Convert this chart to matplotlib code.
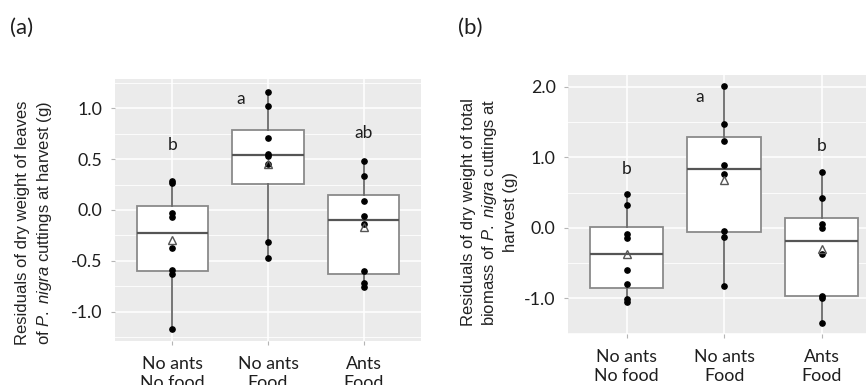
import numpy as np
import matplotlib
matplotlib.use("Agg")
import matplotlib.pyplot as plt
from matplotlib.ticker import MultipleLocator

plt.rcParams['font.family'] = ['Lato', 'DejaVu Sans']
plt.rcParams['mathtext.fontset'] = 'custom'
plt.rcParams['mathtext.rm'] = 'Liberation Sans'
plt.rcParams['mathtext.it'] = 'Liberation Sans:italic'

groups = ["No ants\nNo food", "No ants\nFood", "Ants\nFood"]

# (a) residuals of leaf dry weight (g)
leaves = [
    [0.286, 0.263, -0.033, -0.069, -0.378, -0.591, -0.631, -1.176],
    [1.165, 1.020, 0.713, 0.552, 0.535, 0.450, -0.318, -0.476],
    [0.483, 0.338, 0.089, -0.059, -0.138, -0.601, -0.722, -0.762],
]
leaves_letters = ["b", "a", "ab"]
leaves_letter_y = [0.64, 1.09, 0.76]

# (b) residuals of total biomass dry weight (g)
biomass = [
    [0.473, 0.317, -0.094, -0.151, -0.600, -0.803, -1.016, -1.058],
    [2.014, 1.467, 1.230, 0.894, 0.762, -0.047, -0.128, -0.823],
    [0.786, 0.417, 0.052, 0.000, -0.373, -0.969, -0.993, -1.357],
]
biomass_letters = ["b", "a", "b"]
biomass_letter_y = [0.84, 1.86, 1.16]

BG = '#EBEBEB'
TXT = '#1e1e1e'


def panel(ax, data, letters, letter_y, ylim, major, ticks, fmt, a_shift):
    ax.set_facecolor(BG)
    for s in ax.spines.values():
        s.set_visible(False)
    pos = np.arange(1, len(data) + 1)
    ax.boxplot(data, positions=pos, widths=0.75, patch_artist=True,
               showcaps=False, showfliers=False, zorder=3,
               boxprops=dict(facecolor='white', edgecolor='#8a8a8a', linewidth=1.3),
               medianprops=dict(color='#555555', linewidth=1.6),
               whiskerprops=dict(color='#6a6a6a', linewidth=1.3))
    for x, vals in zip(pos, data):
        ax.plot([x] * len(vals), vals, 'o', color='black', ms=3.8, zorder=4)
        ax.plot(x, np.mean(vals), '^', mfc='none', mec='#555555', mew=1.0,
                ms=5.5, zorder=5)
    for i, (lab, y) in enumerate(zip(letters, letter_y)):
        dx = a_shift if lab == "a" else 0
        ax.text(pos[i] + dx, y, lab, ha='center', va='center', fontsize=12.5,
                color=TXT, zorder=6)
    ax.set_ylim(*ylim)
    ax.yaxis.set_major_locator(MultipleLocator(major))
    ax.yaxis.set_minor_locator(MultipleLocator(major / 2))
    ax.set_yticks(ticks)
    ax.set_yticklabels([fmt.format(t) for t in ticks])
    ax.set_xticks(pos)
    ax.set_xticklabels(groups, linespacing=1.2)
    ax.grid(which='major', color='white', linewidth=1.1, zorder=0)
    ax.grid(which='minor', axis='y', color='white', linewidth=0.6, zorder=0)
    ax.set_axisbelow(True)
    ax.tick_params(axis='both', which='major', length=3, color='#b5b5b5',
                   labelsize=12.8, labelcolor=TXT)
    ax.tick_params(axis='y', pad=6)
    ax.tick_params(axis='x', pad=8)
    ax.tick_params(which='minor', length=0)


fig = plt.figure(figsize=(8.66, 3.85), dpi=100)

ax1 = fig.add_axes([115 / 866, 1 - 341 / 385, 306 / 866, 262 / 385])
panel(ax1, leaves, leaves_letters, leaves_letter_y, (-1.29, 1.29), 0.5,
      [-1.0, -0.5, 0.0, 0.5, 1.0], "{:.1f}", -0.29)
ax1.set_xlim(0.4, 3.6)

ax2 = fig.add_axes([568 / 866, 1 - 334 / 385, 298 / 866, 259 / 385])
panel(ax2, biomass, biomass_letters, biomass_letter_y, (-1.51, 2.17), 1.0,
      [-1.0, 0.0, 1.0, 2.0], "{:.1f}", -0.25)
ax2.set_xlim(0.4, 3.455)

fig.text(0.040, 0.42,
         "Residuals of dry weight of leaves\n"
         r"of $\mathit{P.\ nigra}$ cuttings at harvest (g)",
         rotation=90, ha='center', va='center', fontsize=12,
         family='Liberation Sans', color='#222222', linespacing=1.35)
fig.text(0.565, 0.449,
         "Residuals of dry weight of total\n"
         r"biomass of $\mathit{P.\ nigra}$ cuttings at" "\nharvest (g)",
         rotation=90, ha='center', va='center', fontsize=12,
         family='Liberation Sans', color='#222222', linespacing=1.3,
         multialignment='center')

fig.text(10 / 866, 1 - 28 / 385, "(a)", ha='left', va='center', fontsize=16,
         color=TXT)
fig.text(458 / 866, 1 - 28 / 385, "(b)", ha='left', va='center', fontsize=16,
         color=TXT)

fig.savefig("out.png", dpi=100, facecolor='white')
